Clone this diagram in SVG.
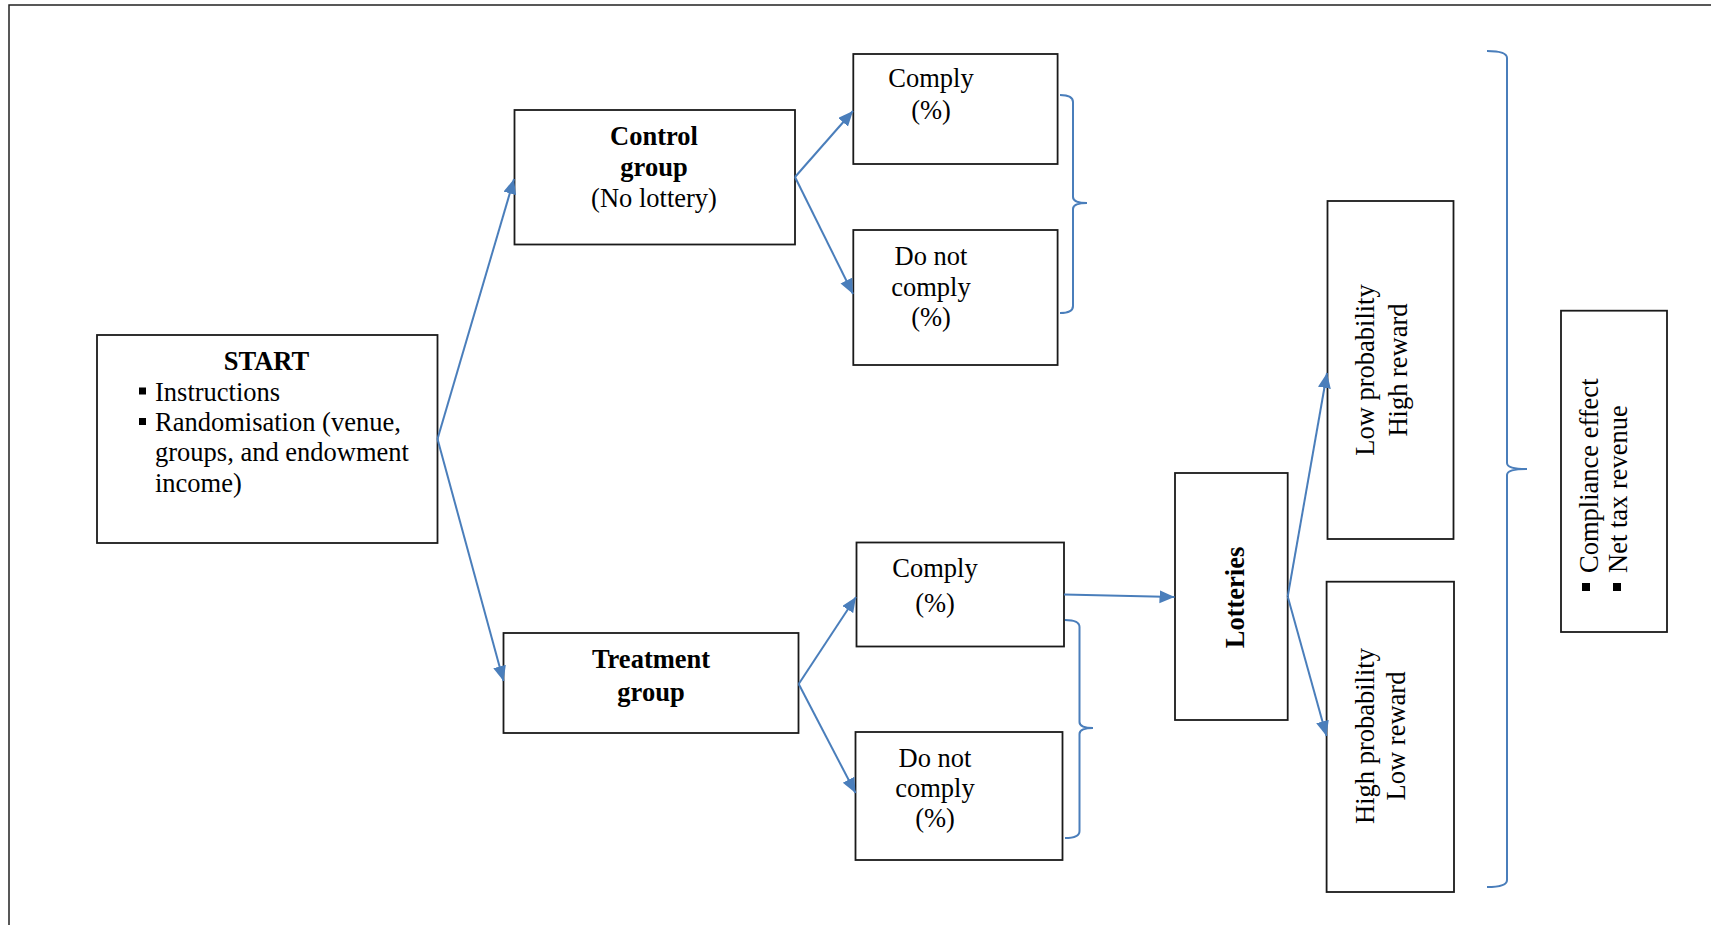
<svg xmlns="http://www.w3.org/2000/svg" width="1711" height="925" viewBox="0 0 1711 925">
<style>
.box{fill:#fff;stroke:#1a1a1a;stroke-width:1.8}
.t{font-family:"Liberation Serif","Times New Roman",serif;font-size:26.5px;fill:#000}
.c{text-anchor:middle}
.b{font-weight:bold}
.con{fill:none;stroke:#4A7EBB;stroke-width:2}
.br{fill:none;stroke:#4A7EBB;stroke-width:2}
.frame{fill:none;stroke:#222;stroke-width:1.5}
</style>
<defs>
<marker id="ah" markerUnits="userSpaceOnUse" markerWidth="16" markerHeight="14" refX="15" refY="6.5" orient="auto">
<path d="M0,0 L15,6.5 L0,13 z" fill="#4A7EBB"/>
</marker>
</defs>
<rect width="1711" height="925" fill="#fff"/>
<path class="frame" d="M9,925 L9,5 L1711,5"/>

<g id="start">
<rect class="box" x="97" y="335" width="340.5" height="208"/>
<text class="t b c" x="266.5" y="370">START</text>
<rect x="139" y="387.5" width="7" height="7" fill="#000"/>
<text class="t" x="155" y="400.5">Instructions</text>
<rect x="139" y="418" width="7" height="7" fill="#000"/>
<text class="t" x="155" y="431">Randomisation (venue,</text>
<text class="t" x="155" y="461">groups, and endowment</text>
<text class="t" x="155" y="492">income)</text>
</g>

<g id="control">
<rect class="box" x="514.5" y="110" width="280.5" height="134.5"/>
<text class="t b c" x="654" y="145">Control</text>
<text class="t b c" x="654" y="176">group</text>
<text class="t c" x="654" y="207">(No lottery)</text>
</g>

<g id="treatment">
<rect class="box" x="503.5" y="633" width="295" height="100"/>
<text class="t b c" x="651" y="668">Treatment</text>
<text class="t b c" x="651" y="701">group</text>
</g>

<g id="comply-control">
<rect class="box" x="853.3" y="54" width="204.3" height="110"/>
<text class="t c" x="931" y="87">Comply</text>
<text class="t c" x="931" y="119">(%)</text>
</g>

<g id="notcomply-control">
<rect class="box" x="853.3" y="230" width="204.3" height="135"/>
<text class="t c" x="931" y="265">Do not</text>
<text class="t c" x="931" y="296">comply</text>
<text class="t c" x="931" y="326">(%)</text>
</g>

<g id="comply-treatment">
<rect class="box" x="856.5" y="542.5" width="207.5" height="104"/>
<text class="t c" x="935" y="577">Comply</text>
<text class="t c" x="935" y="612">(%)</text>
</g>

<g id="notcomply-treatment">
<rect class="box" x="855.5" y="732" width="207" height="128"/>
<text class="t c" x="935" y="767">Do not</text>
<text class="t c" x="935" y="797">comply</text>
<text class="t c" x="935" y="827">(%)</text>
</g>

<g id="lotteries">
<rect class="box" x="1175" y="473" width="112.7" height="247"/>
<text class="t b c" transform="translate(1244,597.5) rotate(-90)">Lotteries</text>
</g>

<g id="low-prob">
<rect class="box" x="1327.5" y="201" width="126" height="338"/>
<text class="t c" transform="translate(1373.5,370) rotate(-90)">Low probability</text>
<text class="t c" transform="translate(1406.5,370) rotate(-90)">High reward</text>
</g>

<g id="high-prob">
<rect class="box" x="1326.6" y="581.7" width="127.4" height="310.3"/>
<text class="t c" transform="translate(1374,736) rotate(-90)">High probability</text>
<text class="t c" transform="translate(1405,736) rotate(-90)">Low reward</text>
</g>

<g id="outcomes">
<rect class="box" x="1561" y="310.7" width="106" height="321.3"/>
<rect x="1582" y="583" width="8" height="8" fill="#000"/>
<text class="t" transform="translate(1598,573) rotate(-90)">Compliance effect</text>
<rect x="1613" y="583" width="8" height="8" fill="#000"/>
<text class="t" transform="translate(1627,573) rotate(-90)">Net tax revenue</text>
</g>

<g id="connectors">
<line class="con" x1="437.5" y1="439" x2="514" y2="179" marker-end="url(#ah)"/>
<line class="con" x1="437.5" y1="439" x2="503.5" y2="681" marker-end="url(#ah)"/>
<line class="con" x1="795" y1="177" x2="853" y2="111" marker-end="url(#ah)"/>
<line class="con" x1="795" y1="177" x2="853" y2="294" marker-end="url(#ah)"/>
<line class="con" x1="798.7" y1="684" x2="856" y2="597" marker-end="url(#ah)"/>
<line class="con" x1="798.7" y1="684" x2="855.5" y2="793" marker-end="url(#ah)"/>
<line class="con" x1="1064" y1="594.5" x2="1174.5" y2="597" marker-end="url(#ah)"/>
<line class="con" x1="1287.7" y1="596.5" x2="1327" y2="373" marker-end="url(#ah)"/>
<line class="con" x1="1287.7" y1="596.5" x2="1326.5" y2="736" marker-end="url(#ah)"/>
<path class="br" d="M1060,95 Q1073,95 1073,102 L1073,197 Q1073,203 1087,203 Q1073,203 1073,209 L1073,306 Q1073,313 1060,313"/>
<path class="br" d="M1065,620 Q1079.5,620 1079.5,627 L1079.5,722 Q1079.5,728 1093,728 Q1079.5,728 1079.5,734 L1079.5,831 Q1079.5,838 1065,838"/>
<path class="br" d="M1487,51 Q1507,51 1507,58 L1507,463 Q1507,469 1527,469 Q1507,469 1507,475 L1507,880 Q1507,887 1487,887"/>
</g>
</svg>
